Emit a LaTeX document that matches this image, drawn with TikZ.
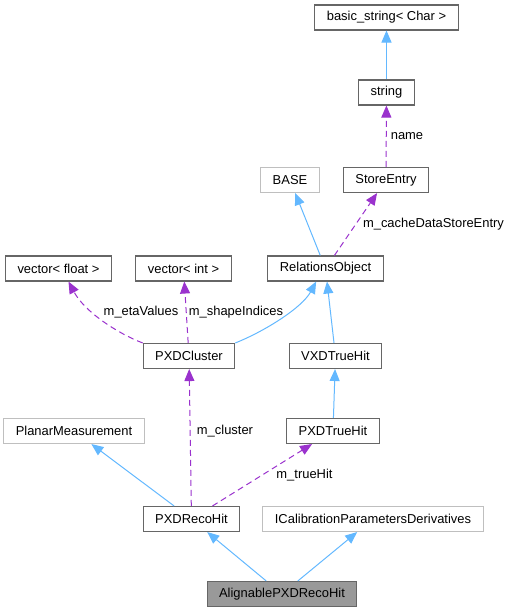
\documentclass[tikz,border=0pt]{standalone}
\usepackage{fontspec}
\setmainfont{Liberation Sans}
\usetikzlibrary{arrows.meta,calc}
\definecolor{dxline}{HTML}{666666}
\definecolor{dxlight}{HTML}{BFBFBF}
\definecolor{dxfill}{HTML}{999999}
\definecolor{inhblue}{HTML}{63B8FF}
\definecolor{usepurple}{HTML}{9A32CD}
\tikzset{
  cbox/.style={draw=dxline,fill=white,line width=0.8pt,inner xsep=9pt,minimum height=18.75pt},
  cext/.style={draw=dxlight,fill=white,line width=0.8pt,inner xsep=9pt,minimum height=18.75pt},
  cself/.style={draw=dxline,fill=dxfill,line width=0.8pt,inner xsep=9pt,minimum height=18.75pt},
  inh/.style={-{Triangle[length=9pt,width=7.5pt]},line width=0.75pt,draw=inhblue},
  usg/.style={-{Triangle[length=9pt,width=7.5pt]},line width=0.75pt,draw=usepurple,dash pattern=on 4.5pt off 3pt},
  elabel/.style={inner sep=0pt}
}
\begin{document}
\begin{tikzpicture}[x=0.75pt,y=-0.75pt,font=\fontsize{9.7}{11}\selectfont]
  \useasboundingbox (0,0) rectangle (512,612);
  % classes
  \node[cbox] (basicstr) at (386.5,17.5) {basic\_string< Char >};
  \node[cbox] (string) at (386.5,92.5) {string};
  \node[cext] (base) at (290,180) {BASE};
  \node[cbox] (storeentry) at (386,180) {StoreEntry};
  \node[cbox] (vfloat) at (58.5,268.5) {vector< float >};
  \node[cbox] (vint) at (183.5,268.5) {vector< int >};
  \node[cbox] (relobj) at (325.5,268.5) {RelationsObject};
  \node[cbox] (cluster) at (189,356) {PXDCluster};
  \node[cbox] (vxdtrue) at (335.5,356) {VXDTrueHit};
  \node[cext] (planar) at (74,431) {PlanarMeasurement};
  \node[cbox] (pxdtrue) at (333,431) {PXDTrueHit};
  \node[cbox] (reco) at (191.5,519) {PXDRecoHit};
  \node[cext] (icalib) at (373,519) {ICalibrationParametersDerivatives};
  \node[cself] (align) at (282,594) {AlignablePXDRecoHit};
  % inheritance
  \draw[inh] (string) -- (basicstr);
  \draw[inh] (relobj) -- (base);
  \draw[inh] (cluster.north east) .. controls +(30,-12) and +(-14,26) .. ([xshift=-7pt]relobj.south);
  \draw[inh] (vxdtrue) -- (relobj);
  \draw[inh] (pxdtrue) -- (vxdtrue);
  \draw[inh] (reco) -- (planar);
  \draw[inh] (align) -- (reco);
  \draw[inh] (align) -- (icalib);
  % members
  \draw[usg] (storeentry) -- (string);
  \draw[usg] (relobj) -- (storeentry);
  \draw[usg] (cluster.north west) .. controls +(-26,-10) and +(16,30) .. ([xshift=7.5pt]vfloat.south);
  \draw[usg] (cluster) -- (vint);
  \draw[usg] (reco) -- (cluster);
  \draw[usg] (reco) -- (pxdtrue);
  % member names
  \node[elabel] (lname) at (407,136) {name};
  \node[elabel] (lcache) at (433.5,224) {m\_cacheDataStoreEntry};
  \node[elabel] (leta) at (141,312) {m\_etaValues};
  \node[elabel] (lshape) at (236,312) {m\_shapeIndices};
  \node[elabel] (lcluster) at (225,431) {m\_cluster};
  \node[elabel] (ltrue) at (304.5,475) {m\_trueHit};
\end{tikzpicture}
\end{document}
